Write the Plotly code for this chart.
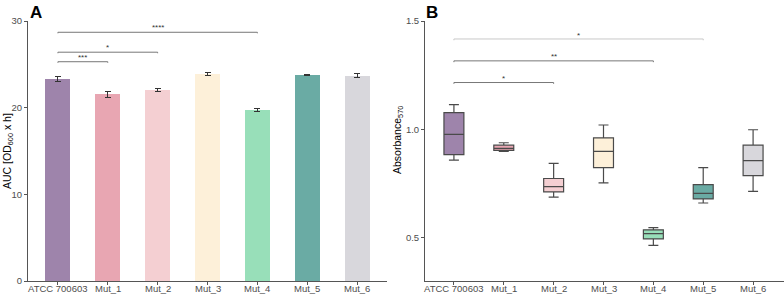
import plotly.graph_objects as go

W, H = 784, 294

categories = ["ATCC 700603", "Mut_1", "Mut_2", "Mut_3", "Mut_4", "Mut_5", "Mut_6"]
colors = ["#9e84ab", "#e8a6b2", "#f4cfd2", "#fdf0d9", "#98dfb9", "#6aaba4", "#d8d7dc"]

# Panel A: AUC bars
auc_mean = [23.3, 21.55, 22.05, 23.9, 19.7, 23.8, 23.7]
auc_err = [0.3, 0.35, 0.2, 0.2, 0.15, 0.05, 0.2]
sig_a_pairs = [(0, 1), (0, 2), (0, 4)]
sig_a_y = [25.3, 26.4, 28.7]
sig_a_lab = ["***", "*", "****"]

# Panel B: absorbance boxes
box_lower = [0.858, 0.898, 0.687, 0.753, 0.464, 0.660, 0.714]
box_q1 = [0.883, 0.903, 0.711, 0.823, 0.494, 0.679, 0.786]
box_med = [0.977, 0.912, 0.736, 0.898, 0.519, 0.704, 0.856]
box_q3 = [1.077, 0.927, 0.773, 0.961, 0.536, 0.745, 0.927]
box_upper = [1.114, 0.938, 0.843, 1.020, 0.546, 0.823, 0.998]
sig_b_pairs = [(0, 2), (0, 4), (0, 5)]
sig_b_y = [1.216, 1.316, 1.417]
sig_b_lab = ["*", "**", "*"]
sig_b_col = ["#777777", "#777777", "#c8c8c8"]

FONT = "Liberation Sans, Arial, sans-serif"
TICKC = "#4d4d4d"

def px_x(p):
    return p / W

def px_y(p):
    return (H - p) / H

fig = go.Figure()

fig.add_trace(go.Bar(
    x=list(range(len(categories))), y=auc_mean, marker_color=colors,
    marker_line_width=0, width=0.5,
    error_y=dict(type="data", array=auc_err, color="#333333", thickness=1, width=3),
    xaxis="x", yaxis="y", showlegend=False,
))

for i, c in enumerate(categories):
    fig.add_trace(go.Box(
        x=[i], q1=[box_q1[i]], median=[box_med[i]], q3=[box_q3[i]],
        lowerfence=[box_lower[i]], upperfence=[box_upper[i]],
        fillcolor=colors[i], line=dict(color="#4a4a4a", width=1.2),
        width=0.4, xaxis="x2", yaxis="y2", showlegend=False, boxpoints=False,
    ))

shapes = []
annotations = []

def bracket(xa, ya, x0, x1, y, lab, col, tick, star_offset):
    shapes.append(dict(type="line", xref=xa, yref=ya, x0=x0, x1=x1, y0=y, y1=y,
                       line=dict(color=col, width=1)))
    for xx in (x0, x1):
        shapes.append(dict(type="line", xref=xa, yref=ya, x0=xx, x1=xx, y0=y, y1=y - tick,
                           line=dict(color=col, width=1)))
    annotations.append(dict(xref=xa, yref=ya, x=(x0 + x1) / 2, y=y + star_offset, text=lab,
                            showarrow=False, font=dict(size=8, color="#333333", family=FONT),
                            yanchor="bottom"))

for (a, b), y, lab in zip(sig_a_pairs, sig_a_y, sig_a_lab):
    bracket("x", "y", a, b, y, lab, "#777777", 0.12, -0.25)
for (a, b), y, lab, col in zip(sig_b_pairs, sig_b_y, sig_b_lab, sig_b_col):
    bracket("x2", "y2", a, b, y, lab, col, 0.006, -0.012)

# category labels under the x axes
for xa in ("x", "x2"):
    for i, c in enumerate(categories):
        annotations.append(dict(xref=xa, yref="paper", x=i, y=px_y(280.5), text=c,
                                showarrow=False, xanchor="center", yanchor="top",
                                font=dict(size=9.5, color=TICKC, family=FONT)))

annotations += [
    dict(xref="paper", yref="paper", x=px_x(28), y=px_y(1), text="<b>A</b>", showarrow=False,
         xanchor="left", yanchor="top", font=dict(size=17, color="black", family=FONT)),
    dict(xref="paper", yref="paper", x=px_x(424), y=px_y(1), text="<b>B</b>", showarrow=False,
         xanchor="left", yanchor="top", font=dict(size=17, color="black", family=FONT)),
    dict(xref="paper", yref="paper", x=px_x(8), y=px_y(151), text="AUC [OD<sub>600</sub> x h]",
         showarrow=False, textangle=-90, xanchor="center", yanchor="middle",
         font=dict(size=10.5, color="black", family=FONT)),
    dict(xref="paper", yref="paper", x=px_x(398), y=px_y(140), text="Absorbance<sub>570</sub>",
         showarrow=False, textangle=-90, xanchor="center", yanchor="middle",
         font=dict(size=10.5, color="black", family=FONT)),
]

axis_common = dict(showgrid=False, zeroline=False, showline=True, linecolor="#555555",
                   linewidth=1, ticks="outside", ticklen=3, tickcolor="#555555",
                   tickfont=dict(size=9.5, color=TICKC, family=FONT), automargin=False)

fig.update_layout(
    width=W, height=H, margin=dict(l=0, r=0, t=0, b=0),
    plot_bgcolor="white", paper_bgcolor="white",
    xaxis=dict(domain=[px_x(28), px_x(387)], range=[-0.6, 6.6], tickmode="array",
               tickvals=list(range(7)), showticklabels=False, anchor="y", **axis_common),
    yaxis=dict(domain=[px_y(281), px_y(21)], range=[0, 30], tickvals=[0, 10, 20, 30],
               anchor="x", **axis_common),
    xaxis2=dict(domain=[px_x(425), 1.0], range=[-0.58, 6.62], tickmode="array",
                tickvals=list(range(7)), showticklabels=False, anchor="y2", **axis_common),
    yaxis2=dict(domain=[px_y(281), px_y(21)], range=[0.3, 1.5], tickvals=[0.5, 1.0, 1.5],
                ticktext=["0.5", "1.0", "1.5"], anchor="x2", **axis_common),
    shapes=shapes, annotations=annotations, bargap=0,
)

fig.write_html("out.html")
